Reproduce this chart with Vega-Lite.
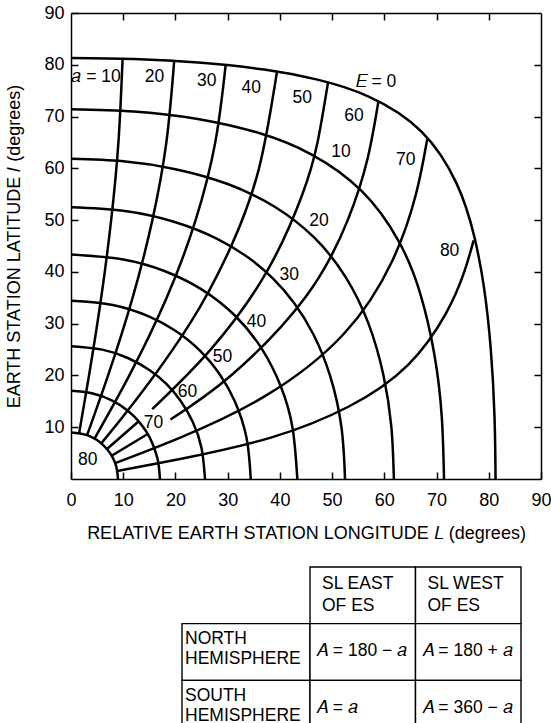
{
"$schema":"https://vega.github.io/schema/vega-lite/v6.json",
"autosize":{"type":"none"},
"width":470,"height":466,
"padding":{"left":71,"top":13,"right":10,"bottom":244},
"background":"white",
"config":{"view":{"stroke":null},"font":"Liberation Sans","axis":{"labelFont":"Liberation Sans","titleFont":"Liberation Sans","labelColor":"black","titleColor":"black","tickColor":"black","domainColor":"black","grid":false,"domainWidth":1.5,"tickWidth":1.5,"labelFontSize":18,"titleFontSize":18,"titleFontWeight":"normal","labelFlush":false}},
"datasets":{
"curves":[
{"id":"E0","o":0,"lon":81.30,"lat":0},{"id":"E0","o":1,"lon":81.10,"lat":12},{"id":"E0","o":2,"lon":80.39,"lat":25},{"id":"E0","o":3,"lon":79.08,"lat":37},{"id":"E0","o":4,"lon":77.18,"lat":47},{"id":"E0","o":5,"lon":73.87,"lat":57},{"id":"E0","o":6,"lon":67.11,"lat":67.11},{"id":"E0","o":7,"lon":57,"lat":73.87},{"id":"E0","o":8,"lon":47,"lat":77.18},{"id":"E0","o":9,"lon":37,"lat":79.08},{"id":"E0","o":10,"lon":25,"lat":80.39},{"id":"E0","o":11,"lon":12,"lat":81.10},{"id":"E0","o":12,"lon":0,"lat":81.30},
{"id":"E10","o":0,"lon":71.43,"lat":0},{"id":"E10","o":1,"lon":71.00,"lat":12},{"id":"E10","o":2,"lon":69.59,"lat":24},{"id":"E10","o":3,"lon":66.82,"lat":36},{"id":"E10","o":4,"lon":62.71,"lat":46},{"id":"E10","o":5,"lon":55.64,"lat":55.64},{"id":"E10","o":6,"lon":46,"lat":62.71},{"id":"E10","o":7,"lon":36,"lat":66.82},{"id":"E10","o":8,"lon":24,"lat":69.59},{"id":"E10","o":9,"lon":12,"lat":71.00},{"id":"E10","o":10,"lon":0,"lat":71.43},
{"id":"E20","o":0,"lon":61.83,"lat":0},{"id":"E20","o":1,"lon":61.35,"lat":10},{"id":"E20","o":2,"lon":59.84,"lat":20},{"id":"E20","o":3,"lon":56.97,"lat":30},{"id":"E20","o":4,"lon":52.59,"lat":39},{"id":"E20","o":5,"lon":46.60,"lat":46.60},{"id":"E20","o":6,"lon":39,"lat":52.59},{"id":"E20","o":7,"lon":30,"lat":56.97},{"id":"E20","o":8,"lon":20,"lat":59.84},{"id":"E20","o":9,"lon":10,"lat":61.35},{"id":"E20","o":10,"lon":0,"lat":61.83},
{"id":"E30","o":0,"lon":52.47,"lat":0},{"id":"E30","o":1,"lon":51.79,"lat":10},{"id":"E30","o":2,"lon":49.59,"lat":20},{"id":"E30","o":3,"lon":46.38,"lat":28},{"id":"E30","o":4,"lon":42.72,"lat":34},{"id":"E30","o":5,"lon":38.70,"lat":38.70},{"id":"E30","o":6,"lon":34,"lat":42.72},{"id":"E30","o":7,"lon":28,"lat":46.38},{"id":"E30","o":8,"lon":20,"lat":49.59},{"id":"E30","o":9,"lon":10,"lat":51.79},{"id":"E30","o":10,"lon":0,"lat":52.47},
{"id":"E40","o":0,"lon":43.34,"lat":0},{"id":"E40","o":1,"lon":42.40,"lat":10},{"id":"E40","o":2,"lon":40.13,"lat":18},{"id":"E40","o":3,"lon":36.63,"lat":25},{"id":"E40","o":4,"lon":31.48,"lat":31.48},{"id":"E40","o":5,"lon":25,"lat":36.63},{"id":"E40","o":6,"lon":18,"lat":40.13},{"id":"E40","o":7,"lon":10,"lat":42.40},{"id":"E40","o":8,"lon":0,"lat":43.34},
{"id":"E50","o":0,"lon":34.42,"lat":0},{"id":"E50","o":1,"lon":33.60,"lat":8},{"id":"E50","o":2,"lon":31.36,"lat":15},{"id":"E50","o":3,"lon":28.62,"lat":20},{"id":"E50","o":4,"lon":24.74,"lat":24.74},{"id":"E50","o":5,"lon":20,"lat":28.62},{"id":"E50","o":6,"lon":15,"lat":31.36},{"id":"E50","o":7,"lon":8,"lat":33.60},{"id":"E50","o":8,"lon":0,"lat":34.42},
{"id":"E60","o":0,"lon":25.66,"lat":0},{"id":"E60","o":1,"lon":24.99,"lat":6},{"id":"E60","o":2,"lon":23.32,"lat":11},{"id":"E60","o":3,"lon":21.04,"lat":15},{"id":"E60","o":4,"lon":18.31,"lat":18.31},{"id":"E60","o":5,"lon":15,"lat":21.04},{"id":"E60","o":6,"lon":11,"lat":23.32},{"id":"E60","o":7,"lon":6,"lat":24.99},{"id":"E60","o":8,"lon":0,"lat":25.66},
{"id":"E70","o":0,"lon":17.03,"lat":0},{"id":"E70","o":1,"lon":16.55,"lat":4},{"id":"E70","o":2,"lon":15.09,"lat":8},{"id":"E70","o":3,"lon":13.46,"lat":10.5},{"id":"E70","o":4,"lon":12.08,"lat":12.08},{"id":"E70","o":5,"lon":10.5,"lat":13.46},{"id":"E70","o":6,"lon":8,"lat":15.09},{"id":"E70","o":7,"lon":4,"lat":16.55},{"id":"E70","o":8,"lon":0,"lat":17.03},
{"id":"E80","o":0,"lon":9,"lat":0},{"id":"E80","o":1,"lon":8.46,"lat":3.08},{"id":"E80","o":2,"lon":6.36,"lat":6.36},{"id":"E80","o":3,"lon":3.08,"lat":8.46},{"id":"E80","o":4,"lon":0,"lat":9},
{"id":"a10","o":0,"lon":1.56,"lat":8.86},{"id":"a10","o":1,"lon":3.45,"lat":20},{"id":"a10","o":2,"lon":5.78,"lat":35},{"id":"a10","o":3,"lon":7.69,"lat":50},{"id":"a10","o":4,"lon":9.08,"lat":65},{"id":"a10","o":5,"lon":9.88,"lat":81.16},
{"id":"a20","o":0,"lon":3.08,"lat":8.46},{"id":"a20","o":1,"lon":7.10,"lat":20},{"id":"a20","o":2,"lon":11.79,"lat":35},{"id":"a20","o":3,"lon":15.58,"lat":50},{"id":"a20","o":4,"lon":18.26,"lat":65},{"id":"a20","o":5,"lon":19.76,"lat":80.75},
{"id":"a30","o":0,"lon":4.5,"lat":7.79},{"id":"a30","o":1,"lon":11.17,"lat":20},{"id":"a30","o":2,"lon":18.32,"lat":35},{"id":"a30","o":3,"lon":23.86,"lat":50},{"id":"a30","o":4,"lon":27.62,"lat":65},{"id":"a30","o":5,"lon":29.62,"lat":79.98},
{"id":"a40","o":0,"lon":5.79,"lat":6.89},{"id":"a40","o":1,"lon":12.25,"lat":15},{"id":"a40","o":2,"lon":22.76,"lat":30},{"id":"a40","o":3,"lon":30.68,"lat":45},{"id":"a40","o":4,"lon":36.00,"lat":60},{"id":"a40","o":5,"lon":39.45,"lat":78.70},
{"id":"a50i","o":0,"lon":6.89,"lat":5.79},{"id":"a50i","o":1,"lon":12.92,"lat":11.1},
{"id":"a50","o":0,"lon":15.55,"lat":13.5},{"id":"a50","o":1,"lon":26.73,"lat":25},{"id":"a50","o":2,"lon":37.46,"lat":40},{"id":"a50","o":3,"lon":44.31,"lat":55},{"id":"a50","o":4,"lon":47.20,"lat":65},{"id":"a50","o":5,"lon":49.22,"lat":76.61},
{"id":"a60i","o":0,"lon":7.79,"lat":4.5},{"id":"a60i","o":1,"lon":14.68,"lat":8.7},
{"id":"a60","o":0,"lon":19.05,"lat":11.5},{"id":"a60","o":1,"lon":30.64,"lat":20},{"id":"a60","o":2,"lon":44.81,"lat":35},{"id":"a60","o":3,"lon":52.99,"lat":50},{"id":"a60","o":4,"lon":56.82,"lat":62},{"id":"a60","o":5,"lon":58.88,"lat":72.99},
{"id":"a70","o":0,"lon":8.46,"lat":3.08},{"id":"a70","o":1,"lon":20.92,"lat":8},{"id":"a70","o":2,"lon":37.14,"lat":16},{"id":"a70","o":3,"lon":52.22,"lat":28},{"id":"a70","o":4,"lon":61.46,"lat":42},{"id":"a70","o":5,"lon":66.05,"lat":55},{"id":"a70","o":6,"lon":68.26,"lat":65.90},
{"id":"a80","o":0,"lon":8.86,"lat":1.56},{"id":"a80","o":1,"lon":21.59,"lat":4},{"id":"a80","o":2,"lon":38.28,"lat":8},{"id":"a80","o":3,"lon":53.2,"lat":14},{"id":"a80","o":4,"lon":64.5,"lat":22},{"id":"a80","o":5,"lon":71.8,"lat":32},{"id":"a80","o":6,"lon":75.3,"lat":40},{"id":"a80","o":7,"lon":77.1,"lat":46.1}
],
"labels":[
{"t":"𝑎 = 10","lon":4.8,"lat":77.6},{"t":"20","lon":16.0,"lat":77.6},{"t":"30","lon":26.0,"lat":76.8},{"t":"40","lon":34.5,"lat":75.5},{"t":"50","lon":44.3,"lat":73.6},{"t":"60","lon":54.2,"lat":70.1},{"t":"70","lon":64.1,"lat":61.6},{"t":"80","lon":72.5,"lat":44.0},
{"t":"𝐸 = 0","lon":58.4,"lat":76.6},
{"t":"10","lon":51.7,"lat":63.1},{"t":"20","lon":47.5,"lat":49.8},{"t":"30","lon":41.8,"lat":39.4},{"t":"40","lon":35.5,"lat":30.3},{"t":"50","lon":29.0,"lat":23.6},{"t":"60","lon":22.3,"lat":16.8},{"t":"70","lon":15.8,"lat":10.8},{"t":"80","lon":3.2,"lat":3.7}
],
"rowhead":[{"row":"north","col":"rowhead","t":"NORTH\nHEMISPHERE"},{"row":"south","col":"rowhead","t":"SOUTH\nHEMISPHERE"}],
"cells":[{"row":"head","col":"east","t":"SL EAST\nOF ES"},{"row":"head","col":"west","t":"SL WEST\nOF ES"},{"row":"north","col":"east","t":"𝐴 = 180 − 𝑎"},{"row":"north","col":"west","t":"𝐴 = 180 + 𝑎"},{"row":"south","col":"east","t":"𝐴 = 𝑎"},{"row":"south","col":"west","t":"𝐴 = 360 − 𝑎"}]
},
"layer":[
{"layer":[
 {"data":{"name":"curves"},"mark":{"type":"line","interpolate":"natural","color":"black","strokeWidth":2.5},
  "encoding":{"x":{"field":"lon","type":"quantitative","scale":{"domain":[0,90],"nice":false},"axis":{"orient":"bottom","values":[0,10,20,30,40,50,60,70,80,90],"tickSize":-7,"labelPadding":19,"title":"RELATIVE EARTH STATION LONGITUDE 𝐿 (degrees)","titlePadding":15}},
   "y":{"field":"lat","type":"quantitative","scale":{"domain":[0,90],"nice":false},"axis":{"orient":"left","values":[10,20,30,40,50,60,70,80,90],"tickSize":-7,"labelPadding":14,"title":"EARTH STATION LATITUDE 𝑙 (degrees)","titlePadding":20}},
   "detail":{"field":"id"},"order":{"field":"o"}}},
 {"data":{"name":"labels"},"mark":{"type":"text","font":"Liberation Sans","fontSize":17.5,"color":"black","align":"center","baseline":"middle"},
  "encoding":{"x":{"field":"lon","type":"quantitative","scale":{"domain":[0,90],"nice":false},"axis":null},"y":{"field":"lat","type":"quantitative","scale":{"domain":[0,90],"nice":false},"axis":null},"text":{"field":"t"}}},
 {"data":{"name":"labels"},"mark":{"type":"point","opacity":0},
  "encoding":{"x":{"field":"lon","type":"quantitative","scale":{"domain":[0,90],"nice":false},"axis":{"orient":"top","values":[10,20,30,40,50,60,70,80],"tickSize":-7,"labels":false,"title":null}},"y":{"field":"lat","type":"quantitative","scale":{"domain":[0,90],"nice":false},"axis":{"orient":"right","values":[10,20,30,40,50,60,70,80],"tickSize":-7,"labels":false,"title":null}}}}
 ],
 "resolve":{"axis":{"x":"independent","y":"independent"}}},
{"data":{"name":"rowhead"},"layer":[
 {"mark":{"type":"rect","fill":"white","stroke":"black","strokeWidth":1.4},
  "encoding":{"x":{"field":"col","type":"nominal","scale":{"domain":["rowhead"],"range":[111,239],"paddingInner":0,"paddingOuter":0},"axis":null},"y":{"field":"row","type":"nominal","scale":{"domain":["head","north","south"],"range":[554,724],"paddingInner":0,"paddingOuter":0},"axis":null}}},
 {"mark":{"type":"text","font":"Liberation Sans","fontSize":17.5,"color":"black","align":"left","baseline":"middle","lineBreak":"\n","lineHeight":20,"dx":3,"dy":-13},
  "encoding":{"x":{"field":"col","type":"nominal","bandPosition":0,"scale":{"domain":["rowhead"],"range":[111,239],"paddingInner":0,"paddingOuter":0},"axis":null},"y":{"field":"row","type":"nominal","scale":{"domain":["head","north","south"],"range":[554,724],"paddingInner":0,"paddingOuter":0},"axis":null},"text":{"field":"t"}}}
]},
{"data":{"name":"cells"},"layer":[
 {"mark":{"type":"rect","fill":"white","stroke":"black","strokeWidth":1.4},
  "encoding":{"x":{"field":"col","type":"nominal","scale":{"domain":["east","west"],"range":[239,450],"paddingInner":0,"paddingOuter":0},"axis":null},"y":{"field":"row","type":"nominal","scale":{"domain":["head","north","south"],"range":[554,724],"paddingInner":0,"paddingOuter":0},"axis":null}}},
 {"transform":[{"filter":"datum.row === 'head'"}],"mark":{"type":"text","font":"Liberation Sans","fontSize":17.5,"color":"black","align":"left","baseline":"middle","lineBreak":"\n","lineHeight":22,"dx":12,"dy":-11.5},
  "encoding":{"x":{"field":"col","type":"nominal","bandPosition":0,"scale":{"domain":["east","west"],"range":[239,450],"paddingInner":0,"paddingOuter":0},"axis":null},"y":{"field":"row","type":"nominal","scale":{"domain":["head","north","south"],"range":[554,724],"paddingInner":0,"paddingOuter":0},"axis":null},"text":{"field":"t"}}},
 {"transform":[{"filter":"datum.row !== 'head'"}],"mark":{"type":"text","font":"Liberation Sans","fontSize":17.5,"color":"black","align":"left","baseline":"middle","dx":6,"dy":-1},
  "encoding":{"x":{"field":"col","type":"nominal","bandPosition":0,"scale":{"domain":["east","west"],"range":[239,450],"paddingInner":0,"paddingOuter":0},"axis":null},"y":{"field":"row","type":"nominal","scale":{"domain":["head","north","south"],"range":[554,724],"paddingInner":0,"paddingOuter":0},"axis":null},"text":{"field":"t"}}}
]}
],
"resolve":{"scale":{"x":"independent","y":"independent"}}
}
